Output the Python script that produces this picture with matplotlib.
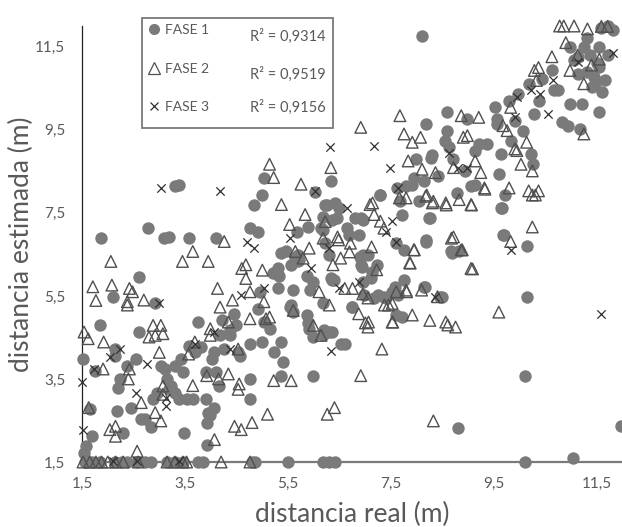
import matplotlib
matplotlib.use("Agg")
import matplotlib.pyplot as plt
from matplotlib.lines import Line2D
from matplotlib.patches import Rectangle

plt.rcParams["font.family"] = ["Lato", "DejaVu Sans"]

# Values (metres)
fase1 = [
    (1.55, 1.5), (1.6, 1.5), (1.7, 1.5), (1.85, 1.5), (2.15, 1.5), (2.27, 1.5), (2.38, 1.5),
    (2.57, 1.5), (2.73, 1.5), (2.84, 1.5), (3.15, 1.5), (3.3, 1.5), (3.46, 1.5), (3.76, 1.5),
    (3.84, 1.5), (4.8, 1.5), (4.85, 1.5), (5.49, 1.5), (6.18, 1.5), (6.29, 1.5), (6.41, 1.5),
    (10.09, 1.5), (11.03, 1.6),
    (1.54, 1.72), (1.58, 1.88), (1.69, 2.12), (1.65, 2.77), (1.75, 3.7), (1.52, 3.98),
    (1.87, 6.89), (1.85, 4.81), (2.11, 5.48), (2.15, 4.22), (2.19, 3.29), (2.23, 3.49),
    (2.17, 2.73), (2.3, 2.2), (2.15, 4.06), (2.38, 3.82), (2.46, 2.81), (2.54, 3.98),
    (2.61, 5.96), (2.6, 4.63), (2.65, 2.53), (2.73, 2.53), (2.78, 7.13), (2.88, 3.01),
    (2.84, 2.35), (2.92, 5.32), (2.96, 3.17),
    (3.09, 6.89), (3.19, 6.93), (3.3, 8.14), (3.38, 8.18), (3.03, 3.82), (3.11, 3.74),
    (3.15, 3.5), (3.23, 3.33), (3.3, 3.17), (3.38, 3.01), (3.19, 3.25), (3.3, 3.82),
    (3.42, 3.98), (3.46, 3.66), (3.57, 4.3), (3.53, 3.01), (3.65, 3.01), (3.47, 2.2),
    (3.57, 6.89), (3.76, 4.87), (3.8, 4.27), (3.69, 4.14), (3.91, 3.66), (3.9, 3.01),
    (3.95, 2.69), (3.92, 2.45), (3.92, 1.92), (3.99, 2.62), (4.07, 2.81), (4.1, 6.89),
    (4.03, 3.98), (4.07, 4.14), (4.15, 3.33), (4.1, 3.66), (4.18, 4.55), (4.22, 4.91),
    (4.26, 4.22), (4.38, 4.55), (4.38, 4.67), (4.45, 5.07), (4.49, 4.79), (4.53, 4.14),
    (4.57, 4.06), (4.76, 7.13), (4.91, 7.05), (4.84, 7.7), (4.99, 7.94), (5.03, 8.35),
    (4.76, 4.35), (4.76, 3.5), (4.76, 3.01), (4.99, 4.39), (4.91, 5.19), (4.95, 5.6),
    (5.03, 4.87), (5.14, 4.71), (5.22, 4.14), (5.3, 5.68), (5.33, 5.99), (5.3, 6.17),
    (5.37, 4.39), (5.41, 3.9), (5.37, 3.58), (5.45, 6.57), (5.56, 6.25), (5.56, 5.28),
    (5.6, 5.11), (5.64, 6.41), (5.67, 7.05), (5.7, 6.49), (5.7, 6.33), (5.87, 5.04),
    (5.9, 4.71), (5.99, 3.58), (5.99, 4.51), (5.87, 5.99), (5.99, 5.84), (6.03, 8.0),
    (6.14, 7.13), (6.18, 7.4), (6.22, 7.7), (6.22, 6.77), (6.29, 6.49), (6.33, 8.27),
    (6.41, 7.74), (6.45, 7.38), (6.48, 7.62), (6.33, 5.92), (6.29, 4.63), (6.18, 4.55),
    (6.52, 4.35), (6.6, 4.35), (6.64, 7.13), (6.68, 6.97), (6.79, 7.38), (6.87, 6.97),
    (6.91, 7.38), (6.95, 6.49), (6.91, 6.25), (6.95, 5.84), (6.75, 5.23), (6.98, 5.52),
    (7.06, 6.49), (7.13, 6.08), (7.29, 7.94), (7.1, 5.92), (7.17, 5.44), (7.25, 5.52),
    (7.4, 5.44), (7.52, 5.6), (7.6, 5.03), (7.75, 5.88), (7.64, 5.52), (7.71, 7.46),
    (7.67, 7.78), (7.75, 6.61), (7.79, 8.15), (7.94, 8.35), (7.98, 8.79), (8.13, 8.27),
    (8.05, 7.78), (8.25, 7.38), (8.17, 6.85), (8.13, 5.72), (8.17, 9.64), (8.09, 11.76),
    (8.28, 8.83), (8.3, 8.9), (8.4, 8.39), (8.44, 5.48), (8.59, 9.92), (8.59, 9.48),
    (8.55, 9.24), (8.63, 9.08), (8.71, 8.79), (8.67, 6.57), (8.82, 6.57), (8.79, 2.32),
    (8.94, 8.51), (8.98, 9.76), (9.05, 8.15), (9.13, 8.99), (9.2, 9.16), (9.36, 9.16),
    (9.51, 10.05), (9.55, 9.76), (9.55, 9.64), (9.59, 8.43), (9.63, 8.91), (9.67, 6.97),
    (9.63, 7.62), (9.71, 7.94), (9.78, 10.2), (9.82, 9.24), (9.9, 9.72), (9.97, 10.37),
    (10.05, 9.48), (10.13, 6.69), (10.13, 5.48), (10.09, 3.58), (10.17, 10.6), (10.21, 8.91),
    (10.25, 8.67), (10.28, 9.88), (10.36, 10.2), (10.43, 10.73), (10.62, 10.93), (10.66, 10.45),
    (10.74, 10.45), (10.81, 9.68), (10.93, 9.6), (10.97, 10.12), (10.97, 11.5), (11.05, 11.18),
    (11.12, 11.26), (11.12, 10.85), (11.16, 9.52), (11.2, 10.13), (11.24, 11.5), (11.35, 11.3),
    (11.39, 10.53), (11.43, 10.77), (11.5, 11.1), (11.54, 11.5), (11.54, 11.02), (11.54, 9.92),
    (11.58, 11.95), (11.7, 11.99), (11.81, 11.9), (11.97, 2.37), (11.3, 10.9), (11.45, 10.6),
    (11.6, 10.4), (11.65, 10.7), (11.3, 11.7), (11.7, 11.3),
    (5.36, 6.54), (5.72, 6.37), (5.2, 6.06), (5.59, 5.64), (5.53, 5.23), (5.88, 7.16),
    (6.17, 7.09), (6.25, 7.69), (6.36, 7.33), (6.36, 5.89), (5.92, 5.64), (6.17, 5.33),
    (5.88, 4.85), (6.2, 4.68), (6.95, 7.33), (7.28, 7.93), (7.62, 8.1), (7.91, 8.17),
    (8.24, 7.38), (8.77, 7.98), (9.12, 8.17), (9.66, 7.62), (9.7, 6.97), (8.17, 6.8),
    (8.69, 6.54), (7.6, 6.78), (6.89, 6.44), (6.93, 6.2), (7.22, 6.25), (6.4, 5.89),
    (7.57, 5.72), (8.15, 5.72), (8.48, 5.48), (7.37, 5.48), (6.75, 5.23), (7.72, 4.99),
    (6.36, 4.63),
]

fase2 = [
    (1.52, 1.5), (1.65, 1.5), (1.77, 1.5), (1.88, 1.5), (2.0, 1.5), (2.15, 1.5), (2.3, 1.5),
    (2.59, 1.5), (3.15, 1.5), (3.3, 1.5), (3.46, 1.5), (3.53, 1.5), (4.2, 1.5), (4.76, 1.5),
    (1.54, 4.63), (1.62, 4.47), (1.63, 2.81), (1.71, 5.72), (1.77, 5.39), (1.91, 3.74),
    (1.92, 4.39), (2.06, 6.33), (2.04, 2.28), (2.08, 5.76), (2.15, 2.12), (2.15, 2.36),
    (2.38, 5.36), (2.42, 5.68), (2.38, 5.28), (2.42, 3.74), (2.4, 3.5), (2.48, 5.6),
    (2.57, 1.76), (2.65, 2.93), (2.7, 5.4), (2.8, 4.51), (2.88, 4.79), (2.92, 4.55),
    (2.92, 2.69), (3.0, 4.14), (3.03, 2.49), (3.03, 4.79), (3.07, 4.59), (3.07, 3.33),
    (3.07, 3.13), (3.45, 6.33), (3.65, 6.57), (3.57, 4.1), (3.65, 3.34), (3.69, 4.39),
    (3.92, 3.58), (3.95, 6.33), (3.99, 4.55), (3.99, 4.71), (4.07, 2.04), (4.15, 3.5),
    (4.13, 5.68), (4.18, 5.23), (4.26, 6.81), (4.34, 3.62), (4.34, 4.87), (4.42, 5.4),
    (4.46, 2.36), (4.53, 4.22), (4.55, 3.38), (4.53, 3.25), (4.59, 2.28), (4.6, 6.16),
    (4.68, 6.25), (4.68, 5.92), (4.8, 2.45), (4.76, 5.6), (4.76, 4.95), (5.0, 6.12),
    (5.03, 5.36), (5.07, 4.95), (5.1, 2.65), (5.14, 8.67), (5.22, 8.35), (5.14, 4.99),
    (5.22, 3.46), (5.37, 7.7), (5.53, 7.22), (5.56, 3.46), (5.6, 5.15), (5.64, 6.57),
    (5.75, 8.19), (5.79, 6.41), (5.83, 7.46), (5.91, 6.65), (5.99, 4.79), (6.1, 5.6),
    (6.14, 4.55), (6.18, 6.89), (6.22, 7.29), (6.26, 2.65), (6.3, 5.28), (6.33, 8.59),
    (6.37, 6.25), (6.4, 2.81), (6.48, 6.85), (6.52, 6.41), (6.6, 5.68), (6.71, 6.77),
    (6.75, 5.68), (6.87, 5.07), (6.91, 3.58), (6.91, 9.56), (7.06, 4.87), (7.09, 7.7),
    (7.17, 7.46), (7.29, 7.3), (7.32, 4.22), (7.36, 7.13), (7.52, 4.87), (7.52, 5.32),
    (7.6, 5.6), (7.67, 9.84), (7.75, 9.4), (7.79, 7.86), (7.79, 5.64), (7.83, 8.75),
    (7.91, 9.2), (7.94, 6.61), (7.87, 6.29), (8.07, 9.32), (8.1, 8.55), (8.17, 7.9),
    (8.25, 4.91), (8.32, 2.49), (8.32, 7.78), (8.36, 8.47), (8.56, 4.87), (8.56, 7.74),
    (8.67, 6.89), (8.71, 8.59), (8.82, 7.82), (8.86, 9.84), (8.86, 6.61), (8.9, 9.32),
    (8.98, 9.36), (9.05, 6.16), (9.05, 7.7), (9.13, 8.75), (9.2, 9.8), (9.24, 8.47),
    (9.32, 8.07), (9.59, 5.11), (9.67, 9.6), (9.75, 9.48), (9.79, 8.1), (9.82, 6.81),
    (9.82, 10.04), (9.9, 9.04), (9.94, 9.0), (10.02, 8.67), (10.13, 9.2), (10.17, 8.03),
    (10.24, 7.16), (10.24, 8.51), (10.28, 10.93), (10.36, 11.0), (10.32, 10.69), (10.36, 8.03),
    (10.62, 11.26), (10.77, 12.0), (10.85, 12.0), (10.89, 11.6), (10.97, 10.93), (11.05, 12.0),
    (11.12, 11.3), (11.24, 10.61), (11.24, 9.4), (11.31, 11.93), (11.39, 11.06), (11.54, 11.2),
    (11.58, 11.99), (11.7, 11.99),
    (7.14, 7.74), (7.66, 7.86), (8.19, 7.93), (8.3, 7.74), (8.57, 7.69), (9.06, 7.69),
    (9.31, 8.1), (10.24, 7.93), (10.3, 7.93), (8.71, 6.92), (8.88, 6.61), (9.08, 6.15),
    (7.86, 6.3), (7.95, 6.61), (7.12, 6.68), (6.69, 6.56), (6.46, 6.92), (7.22, 6.13),
    (6.95, 5.55), (7.05, 5.45), (7.37, 5.28), (7.45, 5.28), (7.8, 5.6), (8.09, 5.64),
    (8.4, 5.48), (7.0, 4.85), (7.05, 4.75), (7.53, 4.87), (7.91, 5.04), (8.6, 4.8),
    (8.75, 4.75),
]

fase3 = [
    (1.5, 3.42), (1.52, 2.28), (1.73, 3.74), (2.04, 4.02), (2.23, 4.22), (2.11, 1.52),
    (2.54, 3.17), (2.57, 1.52), (2.77, 3.86), (3.0, 5.32), (3.03, 8.1), (3.13, 3.05),
    (3.13, 2.85), (3.38, 1.52), (3.69, 4.35), (4.18, 8.02), (4.07, 4.63), (4.38, 4.22),
    (4.59, 5.52), (4.7, 6.81), (4.84, 6.65), (5.03, 5.68), (5.53, 6.89), (5.95, 6.16),
    (6.03, 8.02), (6.29, 6.65), (6.33, 4.18), (6.31, 9.08), (6.48, 5.68), (6.64, 7.62),
    (6.87, 5.84), (7.17, 9.12), (7.4, 7.05), (7.48, 8.59), (7.52, 7.3), (7.6, 6.81),
    (7.64, 8.1), (8.36, 5.48), (8.63, 8.95), (8.79, 8.59), (8.98, 8.59), (9.82, 6.61),
    (9.9, 9.8), (9.94, 10.29), (10.21, 10.45), (10.39, 10.37), (10.55, 9.88), (10.65, 10.69),
    (11.12, 11.14), (11.58, 5.07), (11.81, 11.34),
]

r2_labels = ["R² = 0,9314", "R² = 0,9519", "R² = 0,9156"]
ticks = [1.5, 3.5, 5.5, 7.5, 9.5, 11.5]
tick_labels = ["1,5", "3,5", "5,5", "7,5", "9,5", "11,5"]

circle_color = "#7a7a7a"
tri_color = "#505050"
cross_color = "#303030"
text_color = "#595959"

fig = plt.figure(figsize=(6.22, 5.27), dpi=100)
ax = fig.add_axes([82 / 622, 65 / 527, 541 / 622, 436 / 527])

x1, y1 = zip(*fase1)
x2, y2 = zip(*fase2)
x3, y3 = zip(*fase3)
ax.scatter(x1, y1, s=80, color=circle_color, linewidths=0, clip_on=False, zorder=3)
ax.scatter(x2, y2, s=70, marker="^", facecolors="none", edgecolors=tri_color,
           linewidths=1.0, clip_on=False, zorder=4)
ax.scatter(x3, y3, s=36, marker="x", color=cross_color, linewidths=0.9,
           clip_on=False, zorder=5)

ax.set_xlim(1.5, 12.0)
ax.set_ylim(1.5, 12.0)
ax.set_xticks(ticks)
ax.set_xticklabels(tick_labels)
ax.set_yticks(ticks)
ax.set_yticklabels(tick_labels)
ax.tick_params(axis="both", length=0, labelsize=11, labelcolor=text_color)
ax.tick_params(axis="x", pad=11)
ax.tick_params(axis="y", pad=12)

for side in ["top", "right"]:
    ax.spines[side].set_visible(False)
ax.spines["left"].set_color("#222222")
ax.spines["left"].set_linewidth(0.9)
ax.spines["bottom"].set_color("#7a7a7a")
ax.spines["bottom"].set_linewidth(1.6)

ax.set_xlabel("distancia real (m)", fontsize=19, color=text_color, labelpad=8)
ax.set_ylabel("distancia estimada (m)", fontsize=19, color=text_color, labelpad=1)

# Legend box with R² values
fig.patches.append(Rectangle((142 / 622, 1 - 128 / 527), 191 / 622, 110 / 527,
                             transform=fig.transFigure, fill=False,
                             edgecolor="#7a7a7a", linewidth=1.3))
handles = [
    Line2D([], [], marker="o", linestyle="none", markersize=8, color=circle_color,
           markeredgewidth=0),
    Line2D([], [], marker="^", linestyle="none", markersize=8, markerfacecolor="none",
           markeredgecolor=tri_color, markeredgewidth=0.9),
    Line2D([], [], marker="x", linestyle="none", markersize=6, color=cross_color,
           markeredgewidth=0.9),
]
fig.legend(handles, ["FASE 1", "FASE 2", "FASE 3"], loc="upper left",
           bbox_to_anchor=(139 / 622, 1 - 14 / 527), frameon=False, fontsize=10,
           labelcolor=text_color, handlelength=0.8, handletextpad=0.4,
           labelspacing=1.93, borderpad=0.2)
for label, py in zip(r2_labels, [36, 74, 107]):
    fig.text(326 / 622, 1 - py / 527, label, ha="right", va="center",
             fontsize=10.5, color=text_color)

fig.savefig("out.png", dpi=100)
